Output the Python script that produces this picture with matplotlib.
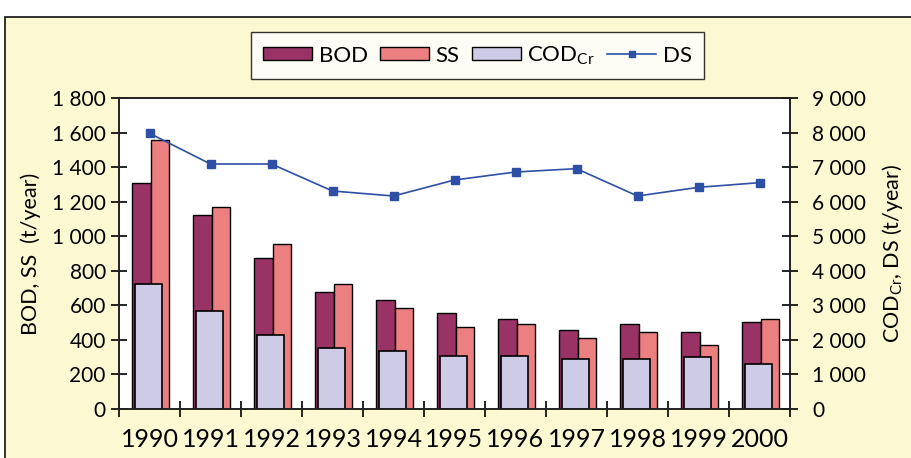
import numpy as np
import matplotlib.pyplot as plt
from matplotlib.patches import Rectangle
from matplotlib.lines import Line2D

plt.rcParams['font.family'] = ['Lato', 'DejaVu Sans']
plt.rcParams['mathtext.fontset'] = 'custom'
plt.rcParams['mathtext.rm'] = 'Lato'

# data
years = ['1990', '1991', '1992', '1993', '1994', '1995', '1996', '1997', '1998', '1999', '2000']
bod = [1310, 1123, 876, 675, 631, 554, 523, 459, 490, 444, 505]
ss = [1557, 1171, 955, 723, 583, 476, 490, 413, 444, 369, 521]
cod = [3617, 2845, 2141, 1755, 1688, 1534, 1534, 1456, 1447, 1514, 1293]
ds = [7978, 7090, 7090, 6309, 6164, 6627, 6858, 6955, 6164, 6415, 6550]

left_ticks = [0, 200, 400, 600, 800, 1000, 1200, 1400, 1600, 1800]
right_ticks = [0, 1000, 2000, 3000, 4000, 5000, 6000, 7000, 8000, 9000]

c_bod = '#993366'
c_ss = '#EC7F80'
c_cod = '#CECBE6'
c_ds = '#2E4FA6'
cream = '#FBF8D2'

fig = plt.figure(figsize=(9.11, 4.58), dpi=100, facecolor='white')
# cream panel with dark frame
fig.patches.append(Rectangle((5 / 911, -0.1), 1.2, 441 / 458 + 0.1,
                             transform=fig.transFigure, facecolor=cream,
                             edgecolor='#222222', lw=1.3, zorder=-10))

ax = fig.add_axes([119 / 911, 49 / 458, 671 / 911, 311 / 458])
ax.set_facecolor('white')
x = np.arange(len(years))
w = 0.30
ax.bar(x - w / 2 + 0.02, bod, w, color=c_bod, edgecolor='black', lw=1.0)
ax.bar(x + w / 2 + 0.02, ss, w, color=c_ss, edgecolor='black', lw=1.0)
ax.set_ylim(0, 1800)
ax.set_xlim(-0.5, len(years) - 0.5)
ax.set_yticks(left_ticks)
ax.set_yticklabels([f'{v:,}'.replace(',', ' ') for v in left_ticks])

ax.set_xticks(np.arange(len(years) + 1) - 0.5)
ax.set_xticklabels([])
ax.set_xticks(x, minor=True)
ax.set_xticklabels(years, minor=True)
ax.tick_params(axis='x', which='major', direction='inout', length=12, width=1.2)
ax.tick_params(axis='x', which='minor', length=0, pad=14, labelsize=18)
ax.tick_params(axis='y', direction='inout', length=12, width=1.2, pad=3.5, labelsize=15)
for s in ax.spines.values():
    s.set_linewidth(1.2)
    s.set_color('#222222')
ax.set_ylabel('BOD, SS  (t/year)', fontsize=15.5, labelpad=8)

ax2 = ax.twinx()
ax2.bar(x - 0.02, cod, 0.44, color=c_cod, edgecolor='black', lw=1.2)
ax2.plot(x, ds, color=c_ds, lw=1.2, marker='s', markersize=6)
ax2.set_ylim(0, 9000)
ax2.set_yticks(right_ticks)
ax2.set_yticklabels([f'{v:,}'.replace(',', ' ') for v in right_ticks])
ax2.tick_params(axis='y', direction='inout', length=12, width=1.2, pad=10, labelsize=15)
for s in ax2.spines.values():
    s.set_linewidth(1.2)
    s.set_color('#222222')
ax2.set_ylabel(r'COD$_{\mathrm{Cr}}$, DS (t/year)', fontsize=15.5, labelpad=10)

handles = [
    Rectangle((0, 0), 1, 1, facecolor=c_bod, edgecolor='black', lw=1.0),
    Rectangle((0, 0), 1, 1, facecolor=c_ss, edgecolor='black', lw=1.0),
    Rectangle((0, 0), 1, 1, facecolor=c_cod, edgecolor='black', lw=1.0),
    Line2D([], [], color=c_ds, lw=1.2, marker='s', markersize=5),
]
labels = ['BOD', 'SS', r'COD$_{\mathrm{Cr}}$', 'DS']
leg = fig.legend(handles, labels, loc='center', bbox_to_anchor=(0.524, 0.878),
                 ncol=4, fontsize=16, frameon=True, fancybox=False,
                 handlelength=2.2, handleheight=0.5, handletextpad=0.3,
                 columnspacing=0.55, borderpad=0.55)
leg.get_frame().set_edgecolor('black')
leg.get_frame().set_linewidth(1.0)
leg.get_frame().set_facecolor('white')

fig.savefig('out.png', dpi=100, facecolor=fig.get_facecolor())
